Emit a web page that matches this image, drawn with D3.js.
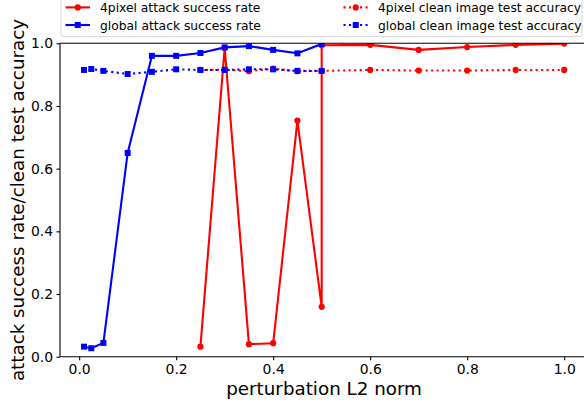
<!DOCTYPE html>
<html>
<head>
<meta charset="utf-8">
<script src="https://cdn.jsdelivr.net/npm/d3@7"></script>
<style>
  body { margin: 0; background: #fff; }
  svg { display: block; font-family: "DejaVu Sans", sans-serif; }
</style>
</head>
<body>
<svg id="chart" width="584" height="402"></svg>
<script>
// Données
const xGlobal = [0.01, 0.025, 0.05, 0.1, 0.15, 0.2, 0.25, 0.3, 0.35, 0.4, 0.45, 0.5];
const globalAttack = [0.032, 0.027, 0.044, 0.65, 0.96, 0.96, 0.969, 0.987, 0.991, 0.979, 0.968, 0.998];
const globalClean = [0.915, 0.918, 0.912, 0.902, 0.909, 0.917, 0.915, 0.915, 0.917, 0.917, 0.912, 0.912];

const x4pixel = [0.25, 0.3, 0.35, 0.4, 0.45, 0.5, 0.5, 0.6, 0.7, 0.8, 0.9, 1.0];
const pixelAttack = [0.032, 0.985, 0.04, 0.043, 0.753, 0.159, 0.994, 0.995, 0.979, 0.988, 0.995, 0.999];
const pixelClean = [0.915, 0.916, 0.911, 0.919, 0.911, 0.912, 0.912, 0.915, 0.913, 0.913, 0.915, 0.915];

const xTicks = [0, 0.2, 0.4, 0.6, 0.8, 1.0];
const yTicks = [0, 0.2, 0.4, 0.6, 0.8, 1.0];

const seriesLabels = [
  "4pixel attack success rate",
  "global attack success rate",
  "4pixel clean image test accuracy",
  "global clean image test accuracy"
];

var svg = d3.select("#chart");

// Zone de tracé (attention : "top" est réservé par window)
var plotLeft = 60, plotRight = 588.2, plotTop = 43.3, plotBottom = 356.7;

var xScale = d3.scaleLinear().domain([-0.0395, 1.0495]).range([plotLeft, plotRight]);
var yScale = d3.scaleLinear().domain([0, 1]).range([plotBottom, plotTop]);

var dotted = "2.1,3.4";

// Séries : ordre de tracé de matplotlib
var series = [
  { label: seriesLabels[0], xs: x4pixel, ys: pixelAttack, color: "#ff0000", marker: "circle", dash: null },
  { label: seriesLabels[1], xs: xGlobal, ys: globalAttack, color: "#0000ff", marker: "square", dash: null },
  { label: seriesLabels[2], xs: x4pixel, ys: pixelClean, color: "#ff0000", marker: "circle", dash: dotted },
  { label: seriesLabels[3], xs: xGlobal, ys: globalClean, color: "#0000ff", marker: "square", dash: dotted }
];

svg.append("defs").append("clipPath").attr("id", "plot-clip")
  .append("rect")
  .attr("x", plotLeft).attr("y", plotTop)
  .attr("width", plotRight - plotLeft).attr("height", plotBottom - plotTop);

function drawMarker(g, kind, cx, cy, color) {
  if (kind === "circle") {
    g.append("circle").attr("cx", cx).attr("cy", cy).attr("r", 3.1).attr("fill", color);
  } else {
    g.append("rect").attr("x", cx - 3).attr("y", cy - 3)
      .attr("width", 6).attr("height", 6).attr("fill", color);
  }
}

var plot = svg.append("g").attr("clip-path", "url(#plot-clip)");

var line = d3.line().x(d => xScale(d[0])).y(d => yScale(d[1]));

series.forEach(function (s) {
  var pts = s.xs.map((x, i) => [x, s.ys[i]]);
  var g = plot.append("g");
  g.append("path")
    .datum(pts)
    .attr("d", line)
    .attr("fill", "none")
    .attr("stroke", s.color)
    .attr("stroke-width", 2.1)
    .attr("stroke-linejoin", "round")
    .attr("stroke-dasharray", s.dash);
  pts.forEach(function (p) {
    drawMarker(g, s.marker, xScale(p[0]), yScale(p[1]), s.color);
  });
});

// Axes
var xAxis = svg.append("g")
  .attr("transform", `translate(0, ${plotBottom})`)
  .call(d3.axisBottom(xScale).tickValues(xTicks).tickFormat(d3.format(".1f")).tickSize(3.5).tickPadding(3.5));

var yAxis = svg.append("g")
  .attr("transform", `translate(${plotLeft}, 0)`)
  .call(d3.axisLeft(yScale).tickValues(yTicks).tickFormat(d3.format(".1f")).tickSize(3.5).tickPadding(3.5));

[xAxis, yAxis].forEach(function (a) {
  a.select(".domain").remove();
  a.selectAll("text").attr("font-size", 13.9).attr("font-family", "DejaVu Sans").attr("fill", "#000");
  a.selectAll("line").attr("stroke", "#000").attr("stroke-width", 1.1);
});

// Cadre
var spine = svg.append("g").attr("stroke", "#000").attr("stroke-width", 1.1).attr("fill", "none");
spine.append("line").attr("x1", plotLeft).attr("x2", plotLeft).attr("y1", plotTop).attr("y2", plotBottom);
spine.append("line").attr("x1", plotLeft).attr("x2", plotRight).attr("y1", plotTop).attr("y2", plotTop);
spine.append("line").attr("x1", plotLeft).attr("x2", plotRight).attr("y1", plotBottom).attr("y2", plotBottom);
spine.append("line").attr("x1", plotRight).attr("x2", plotRight).attr("y1", plotTop).attr("y2", plotBottom);

// Titres des axes
svg.append("text")
  .attr("x", (plotLeft + plotRight) / 2).attr("y", 395)
  .attr("text-anchor", "middle")
  .attr("font-size", 18.3)
  .text("perturbation L2 norm");

svg.append("text")
  .attr("transform", `translate(24, ${(plotTop + plotBottom) / 2}) rotate(-90)`)
  .attr("text-anchor", "middle")
  .attr("font-size", 18.3)
  .text("attack success rate/clean test accuracy");

// Légende
var legend = svg.append("g");
legend.append("rect")
  .attr("x", 61).attr("y", -5)
  .attr("width", 521).attr("height", 41.7)
  .attr("rx", 3)
  .attr("fill", "#fff").attr("fill-opacity", 0.8)
  .attr("stroke", "#d6d6d6");

var cols = [{ x1: 65.5, x2: 90, tx: 100 }, { x1: 343.5, x2: 368, tx: 378 }];
var rows = [7.4, 25];

series.forEach(function (s, i) {
  var c = cols[Math.floor(i / 2)], ry = rows[i % 2];
  var g = legend.append("g");
  g.append("line")
    .attr("x1", c.x1).attr("x2", c.x2).attr("y1", ry).attr("y2", ry)
    .attr("stroke", s.color).attr("stroke-width", 2.1)
    .attr("stroke-dasharray", s.dash);
  drawMarker(g, s.marker, (c.x1 + c.x2) / 2, ry, s.color);
  g.append("text")
    .attr("x", c.tx).attr("y", ry + 4.6)
    .attr("font-size", 12.3)
    .attr("fill", "#000")
    .text(s.label);
});
</script>
</body>
</html>
